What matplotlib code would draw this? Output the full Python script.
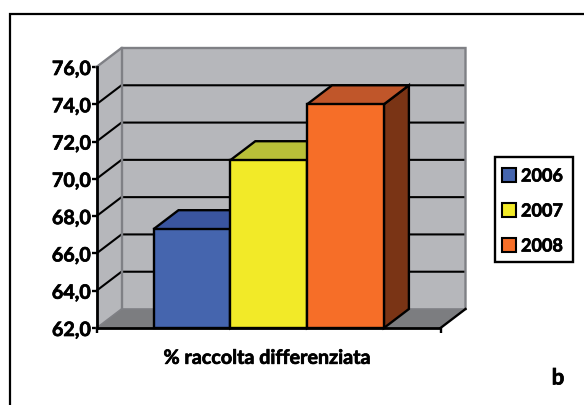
import matplotlib
matplotlib.use("Agg")
import matplotlib.pyplot as plt
import matplotlib.patheffects as pe
from matplotlib.patches import Polygon, Rectangle
from matplotlib.lines import Line2D

years = ["2006", "2007", "2008"]
values = [67.3, 71.0, 74.0]
front_colors = ["#4565AE", "#F2EA28", "#F66E28"]
top_colors = ["#3A55A0", "#B9C038", "#C0562A"]
side_colors = ["#2C3F75", "#8A8A20", "#7A3415"]
y_ticks = [62, 64, 66, 68, 70, 72, 74, 76]
category = "% raccolta differenziata"

W, H = 584, 406
plt.rcParams["font.family"] = ["Lato", "DejaVu Sans"]
plt.rcParams["font.weight"] = "bold"
fig = plt.figure(figsize=(W / 100, H / 100), dpi=100)
fig.patch.set_facecolor("white")

# Thin outline that thickens the bold letterforms
heavy = [pe.withStroke(linewidth=0.5, foreground="black")]


def px_rect(x0, y0, x1, y1):
    return [x0 / W, 1 - y1 / H, (x1 - x0) / W, (y1 - y0) / H]


# Page frame around the panel, top and left edges
fig.add_artist(Line2D([10 / W, 10 / W, 1], [0, 1 - 15 / H, 1 - 15 / H],
                      transform=fig.transFigure, color="black", lw=1.6, zorder=-1,
                      solid_joinstyle="miter"))

ax = fig.add_axes(px_rect(96.5, 68, 440.5, 329))
ax.set_xlim(0, 344)
ax.set_ylim(62, 76)
ax.patch.set_alpha(0)
for s in ax.spines.values():
    s.set_visible(False)

# Depth of the pseudo-3D box, in data units
dx = 25
dy = 19 * 14 / 261
lo, hi = 62, 76
xr = 344
wall = "#B6B7BB"
wall_edge = "#7F8085"

# Side wall, back wall and floor
ax.add_patch(Polygon([(0, lo), (dx, lo + dy), (dx, hi + dy), (0, hi)], fc=wall, ec="none", zorder=1, clip_on=False))
ax.add_patch(Polygon([(dx, lo + dy), (xr + dx, lo + dy), (xr + dx, hi + dy), (dx, hi + dy)], fc=wall, ec="none", zorder=1, clip_on=False))
ax.add_patch(Polygon([(0, lo), (dx, lo + dy), (xr + dx, lo + dy), (xr, lo)], fc="#7C7D80", ec="none", zorder=1, clip_on=False))

# Gridlines run across the side wall and the back wall
for t in y_ticks[1:]:
    if t < hi:
        ax.plot([0, dx, xr + dx], [t, t + dy, t + dy], color="black", lw=1.5, zorder=2,
                clip_on=False, solid_joinstyle="miter", solid_capstyle="butt")

# Grey outline of the walls
ax.plot([0, dx, xr + dx, xr + dx], [hi, hi + dy, hi + dy, lo + dy], color=wall_edge, lw=1.7,
        zorder=3, clip_on=False, solid_joinstyle="miter")
ax.plot([dx, dx], [lo + dy, hi + dy], color=wall_edge, lw=1.7, zorder=3, clip_on=False)
ax.plot([0, dx, xr + dx], [lo, lo + dy, lo + dy], color=wall_edge, lw=1.2, zorder=3, clip_on=False)

# Bars: front face through bar(), top and side faces as depth polygons
bar_w = 76.8
x_left = 57
for i, (v, fc, tc, sc) in enumerate(zip(values, front_colors, top_colors, side_colors)):
    x0 = x_left + i * bar_w
    x1 = x0 + bar_w
    z = 4 + i
    ax.add_patch(Polygon([(x1, lo), (x1 + dx, lo + dy), (x1 + dx, v + dy), (x1, v)], fc=sc, ec="black",
                         lw=1.7, zorder=z, clip_on=False, joinstyle="miter"))
    ax.add_patch(Polygon([(x0, v), (x0 + dx, v + dy), (x1 + dx, v + dy), (x1, v)], fc=tc, ec="black",
                         lw=1.7, zorder=z, clip_on=False, joinstyle="miter"))
    ax.bar(x0, v - lo, bottom=lo, width=bar_w, align="edge", color=fc, edgecolor="black",
           linewidth=1.7, zorder=z + 0.5, clip_on=False)

# Front axis lines with outward ticks
ax.plot([0, 0], [lo, hi], color="black", lw=2, zorder=10, clip_on=False, solid_capstyle="projecting")
ax.plot([0, xr], [lo, lo], color="black", lw=2, zorder=10, clip_on=False, solid_capstyle="butt")
ax.plot([xr, xr + dx], [lo, lo + dy], color="black", lw=1.7, zorder=3.5, clip_on=False)
ax.set_yticks(y_ticks)
labels = ax.set_yticklabels([f"{t:.1f}".replace(".", ",") for t in y_ticks], fontsize=14.2, fontweight="bold")
for lab in labels:
    lab.set_path_effects(heavy)
ax.tick_params(axis="y", length=3.5, width=1.7, pad=0.5, color="black")
ax.set_xticks([0, xr])
ax.set_xticklabels(["", ""])
ax.tick_params(axis="x", length=3.5, width=1.7, color="black")
ax.text(xr / 2 - 1, 60.4, category, ha="center", va="center", fontsize=14.2, fontweight="bold",
        path_effects=heavy)

# Legend box
fig.add_artist(Rectangle((495 / W, 1 - 263 / H), 78 / W, 105 / H, transform=fig.transFigure,
                         fc="white", ec="black", lw=1.7, zorder=5))
for name, color, y in zip(years, front_colors, [176, 211, 246]):
    fig.add_artist(Rectangle((502 / W, 1 - (y + 7) / H), 14 / W, 14 / H, transform=fig.transFigure,
                             fc=color, ec="black", lw=1.5, zorder=6))
    fig.text(521 / W, 1 - (y + 1) / H, name, fontsize=13, fontweight="bold", va="center", ha="left", zorder=6,
             path_effects=heavy)

fig.text(558 / W, 1 - 379 / H, "b", fontsize=16, fontweight="bold", ha="center", va="center",
         path_effects=heavy)

fig.savefig("out.png", dpi=100)
